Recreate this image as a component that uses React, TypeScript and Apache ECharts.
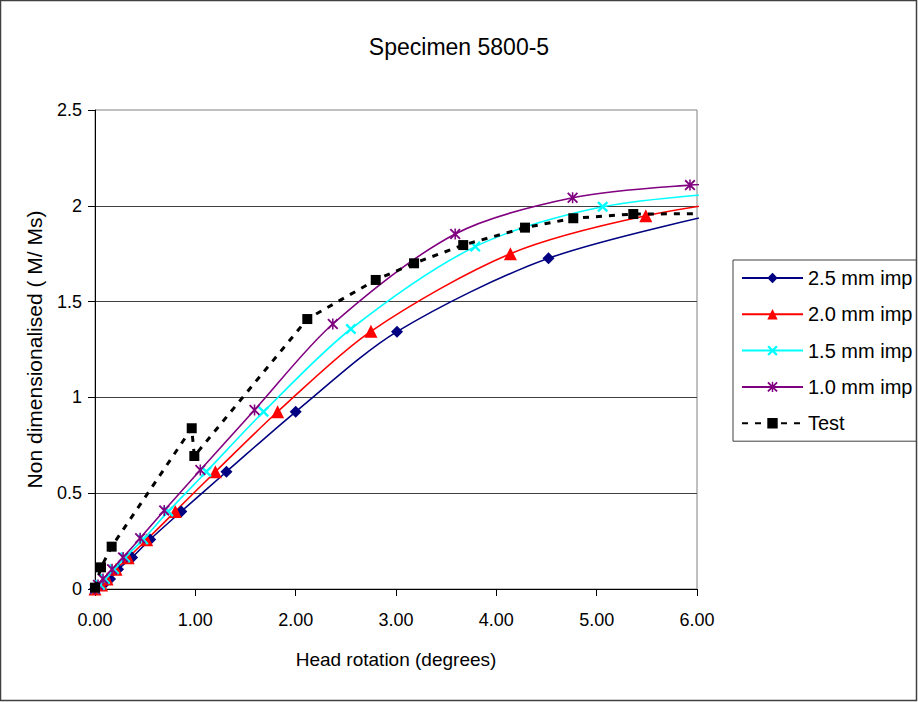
import React, { useEffect, useRef } from "react";
import * as echarts from "echarts";

const FONT = "'Liberation Sans', Arial, sans-serif";

// 2.5 mm imp
const s25X = [0, 0.08, 0.15, 0.23, 0.37, 0.55, 0.86, 1.31, 2.0, 3.01, 4.52, 6.35];
const s25Y = [0, 0.021, 0.052, 0.103, 0.165, 0.259, 0.405, 0.612, 0.925, 1.343, 1.726, 1.975];
// 2.0 mm imp
const s20X = [0, 0.065, 0.12, 0.21, 0.33, 0.515, 0.8, 1.2, 1.82, 2.75, 4.14, 5.49, 7.0];
const s20Y = [0, 0.021, 0.052, 0.103, 0.163, 0.257, 0.405, 0.612, 0.925, 1.345, 1.75, 1.948, 2.07];
// 1.5 mm imp
const s15X = [0, 0.05, 0.1, 0.19, 0.3, 0.48, 0.73, 1.11, 1.68, 2.55, 3.79, 5.06, 6.6];
const s15Y = [0, 0.021, 0.052, 0.103, 0.165, 0.259, 0.405, 0.612, 0.925, 1.357, 1.787, 1.995, 2.08];
// 1.0 mm imp
const s10X = [0, 0.03, 0.08, 0.17, 0.28, 0.45, 0.69, 1.05, 1.59, 2.37, 3.59, 4.76, 5.93, 7.2];
const s10Y = [0, 0.021, 0.052, 0.103, 0.165, 0.265, 0.41, 0.621, 0.934, 1.383, 1.853, 2.042, 2.108, 2.14];
// Test
const testX = [0, 0.06, 0.166, 0.964, 0.99, 2.116, 2.798, 3.18, 3.67, 4.286, 4.767, 5.365, 6.4];
const testY = [0.007, 0.113, 0.221, 0.839, 0.694, 1.409, 1.613, 1.7, 1.795, 1.886, 1.935, 1.957, 1.96];

const seriesNames = ["2.5 mm imp", "2.0 mm imp", "1.5 mm imp", "1.0 mm imp", "Test"];
const xTicks = [0, 1, 2, 3, 4, 5, 6];

const X_SYMBOL =
  "path://M0,1.5 L1.5,0 L5,3.5 L8.5,0 L10,1.5 L6.5,5 L10,8.5 L8.5,10 L5,6.5 L1.5,10 L0,8.5 L3.5,5 Z";
const STAR_SYMBOL =
  "path://M0,1.2 L1.2,0 L5,3.8 L8.8,0 L10,1.2 L6.2,5 L10,8.8 L8.8,10 L5,6.2 L1.2,10 L0,8.8 L3.8,5 Z M4.3,0 L5.7,0 L5.7,10 L4.3,10 Z";

const zip = (xs: number[], ys: number[]) => xs.map((x, i) => [x, ys[i]]);

export default function App() {
  const ref = useRef<HTMLDivElement>(null);
  useEffect(() => {
    document.body.style.margin = "0";
    if (!ref.current) return;
    const chart = echarts.init(ref.current, undefined, { renderer: "svg" });
    const model = (
      name: string,
      xs: number[],
      ys: number[],
      color: string,
      symbol: string,
      size: number
    ) => ({
      name,
      type: "line",
      data: zip(xs, ys),
      smooth: 0.3,
      symbol,
      symbolSize: size,
      showAllSymbol: true,
      clip: true,
      lineStyle: { color, width: 1.6 },
      itemStyle: { color, borderWidth: 0 },
      z: 3,
    });
    chart.setOption({
      animation: false,
      backgroundColor: "#ffffff",
      title: {
        text: "Specimen 5800-5",
        left: "center",
        top: 30,
        textStyle: { fontFamily: FONT, fontSize: 23, fontWeight: "normal", color: "#000" },
      },
      graphic: [
        {
          type: "rect",
          shape: { x: 0.5, y: 0.5, width: 916, height: 700 },
          style: { fill: "none", stroke: "#404040", lineWidth: 1.5 },
          silent: true,
          z: 100,
        },
      ],
      legend: {
        orient: "vertical",
        left: 733,
        top: 260,
        data: seriesNames,
        itemWidth: 61,
        itemHeight: 13,
        itemGap: 16.3,
        padding: [8, 4, 8, 8],
        borderColor: "#404040",
        borderWidth: 1,
        textStyle: { fontFamily: FONT, fontSize: 20, color: "#000" },
      },
      grid: {
        left: 95,
        right: 221,
        top: 110,
        bottom: 113,
        show: true,
        borderColor: "#808080",
        borderWidth: 1,
        backgroundColor: "transparent",
      },
      xAxis: {
        type: "value",
        min: 0,
        max: 6,
        interval: 1,
        name: "Head rotation (degrees)",
        nameLocation: "middle",
        nameGap: 61,
        nameTextStyle: { fontFamily: FONT, fontSize: 19, color: "#000" },
        axisLine: { show: true, onZero: false, lineStyle: { color: "#000", width: 1 } },
        axisTick: { show: true, length: 7, lineStyle: { color: "#000" } },
        axisLabel: {
          fontFamily: FONT,
          fontSize: 18,
          color: "#000",
          margin: 22,
          formatter: (v: number) => (xTicks.includes(v) ? v.toFixed(2) : ""),
        },
        splitLine: { show: false },
      },
      yAxis: {
        type: "value",
        min: 0,
        max: 2.5,
        interval: 0.5,
        name: "Non dimensionalised ( M/ Ms)",
        nameLocation: "middle",
        nameGap: 50,
        nameTextStyle: { fontFamily: FONT, fontSize: 21, color: "#000" },
        axisLine: { show: true, lineStyle: { color: "#000", width: 1 } },
        axisTick: { show: true, length: 7, lineStyle: { color: "#000" } },
        axisLabel: { fontFamily: FONT, fontSize: 18, color: "#000", margin: 13 },
        splitLine: {
          show: true,
          showMaxLine: false,
          lineStyle: { color: "#404040", width: 1 },
        },
      },
      series: [
        model(seriesNames[0], s25X, s25Y, "#000080", "diamond", 12),
        model(seriesNames[1], s20X, s20Y, "#ff0000", "triangle", 13),
        model(seriesNames[2], s15X, s15Y, "#00ffff", X_SYMBOL, 11),
        model(seriesNames[3], s10X, s10Y, "#800080", STAR_SYMBOL, 11),
        {
          name: seriesNames[4],
          type: "line",
          data: zip(testX, testY),
          symbol: "rect",
          symbolSize: 10,
          showAllSymbol: true,
          clip: true,
          lineStyle: { color: "#000", width: 3, type: [6, 7] },
          itemStyle: { color: "#000" },
          z: 4,
        },
      ],
    });
    return () => chart.dispose();
  }, []);
  return <div ref={ref} style={{ width: 918, height: 702 }} />;
}
